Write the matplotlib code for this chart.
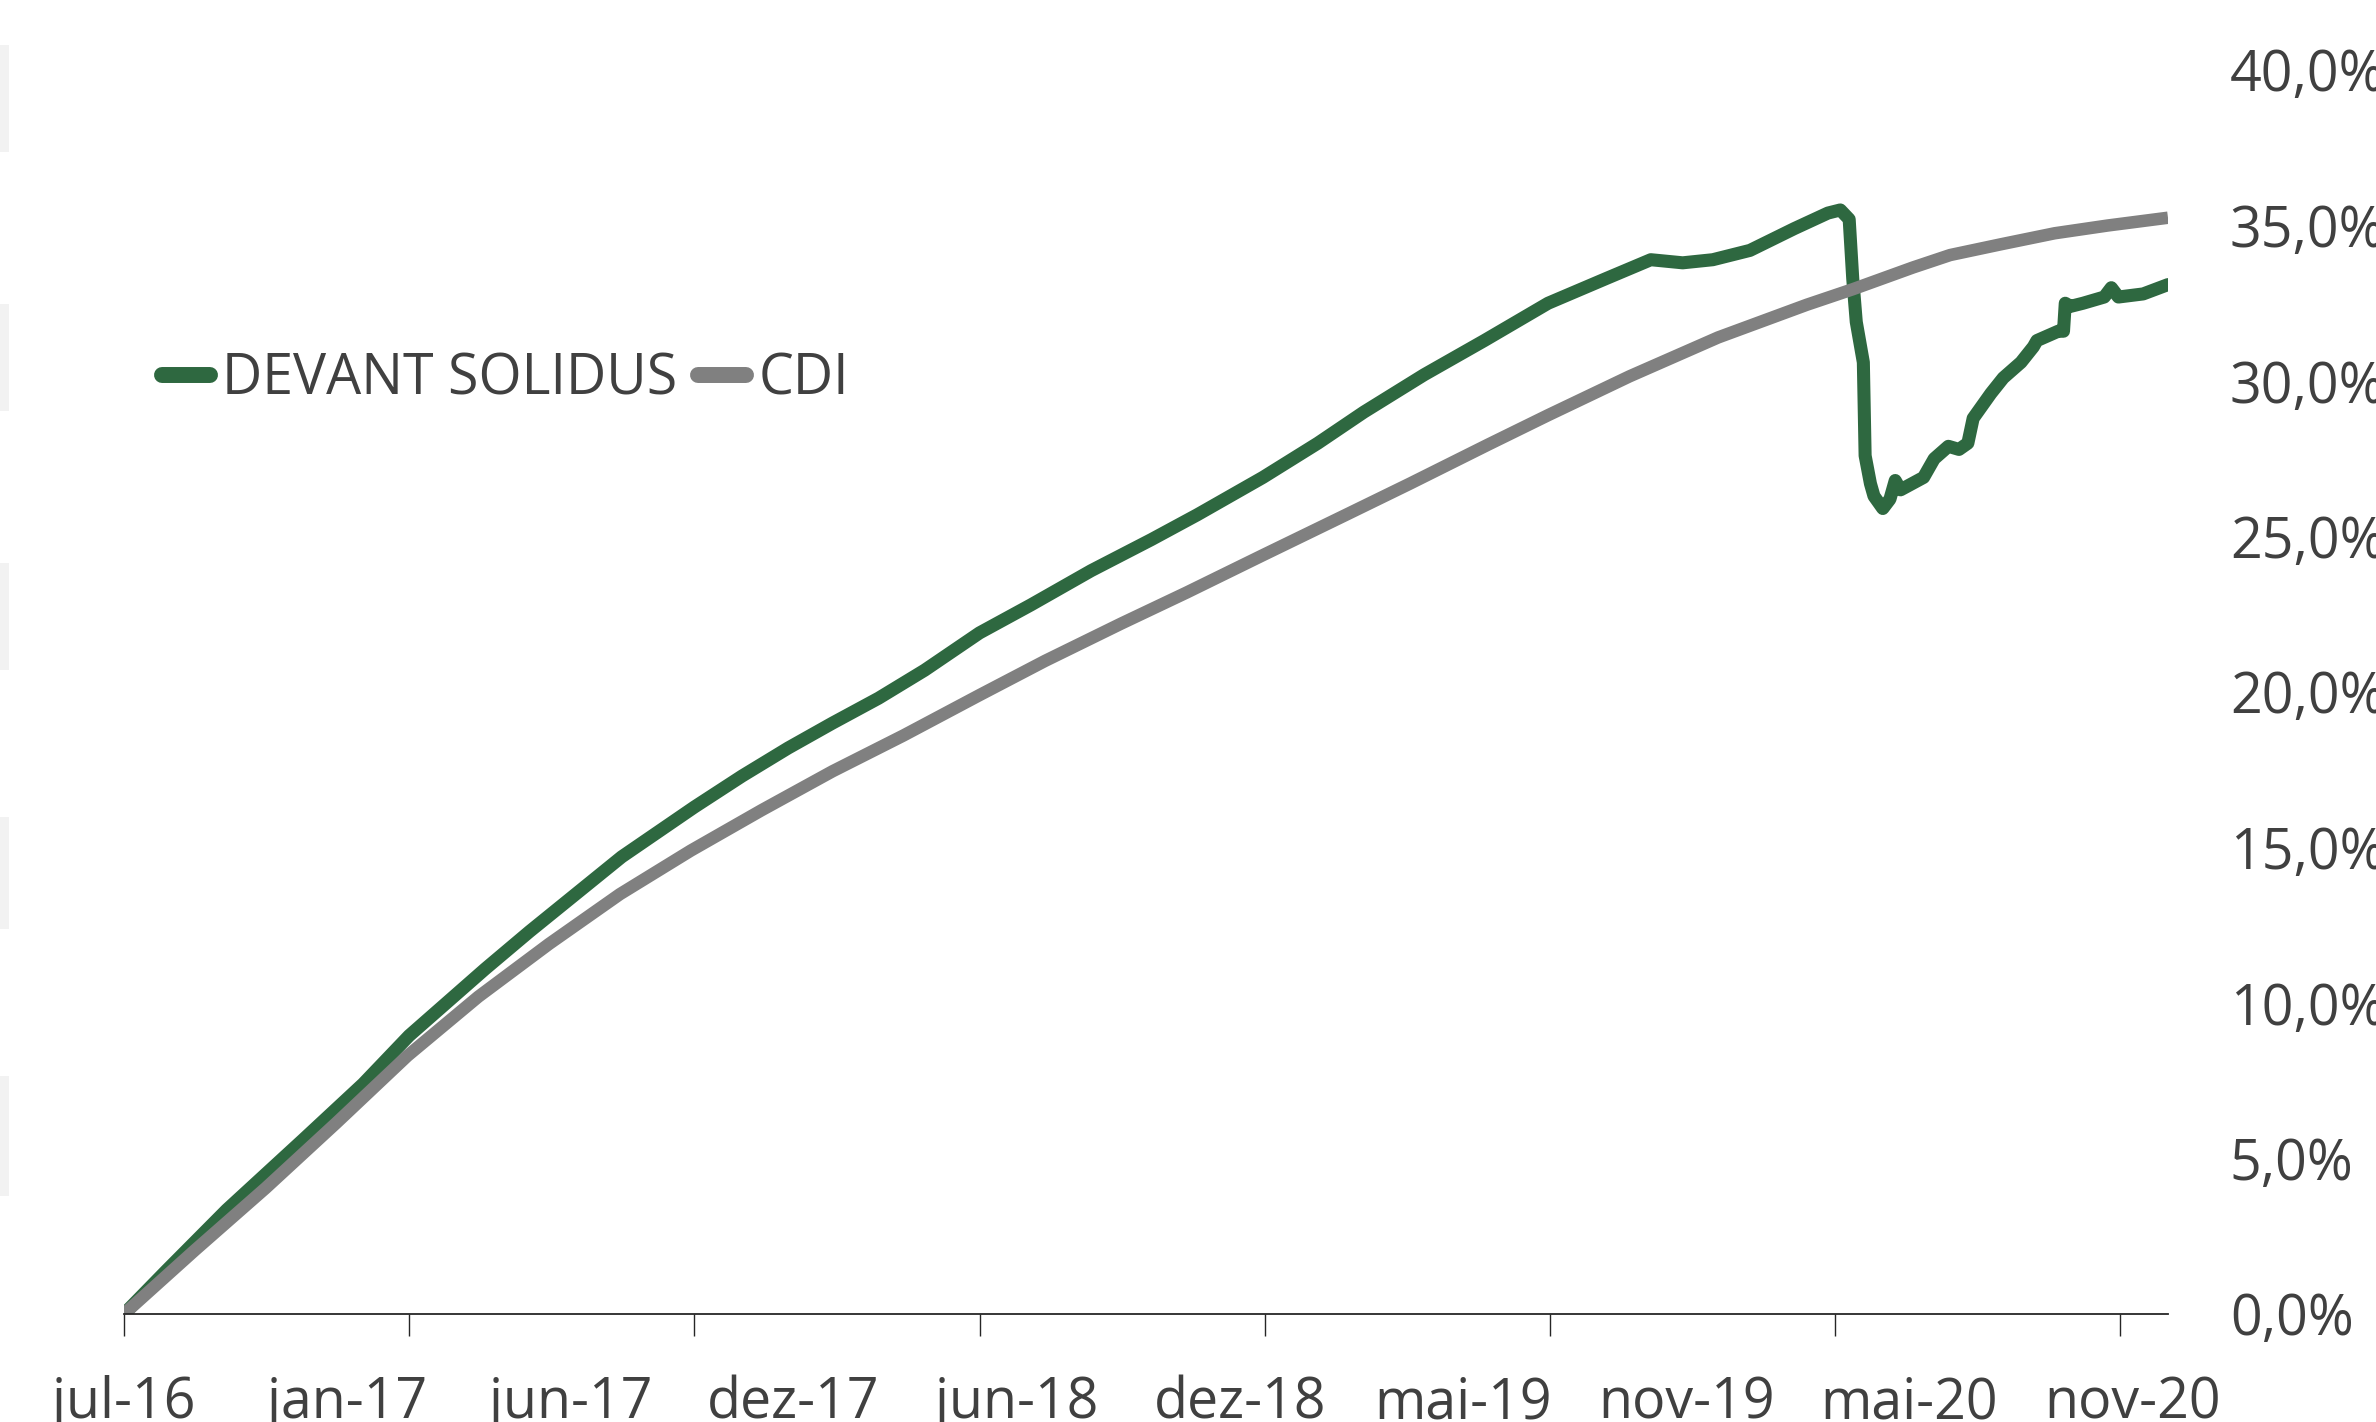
import matplotlib
matplotlib.use("Agg")
import matplotlib.pyplot as plt
from matplotlib.patches import Rectangle
from matplotlib.ticker import FixedLocator, FuncFormatter, NullFormatter

plt.rcParams['font.family'] = ['Open Sans', 'DejaVu Sans']

# x axis is a trading-day index (Excel category axis)
x_labels = ["jul-16", "jan-17", "jun-17", "dez-17", "jun-18",
            "dez-18", "mai-19", "nov-19", "mai-20", "nov-20"]
label_step = 126
tick_step = 161
x_max = 1154

# cumulative return, %
solidus_idx = [0, 24, 58, 101, 135, 161, 204, 229, 255, 281, 322, 349, 375, 400,
               426, 452, 483, 512, 546, 580, 606, 643, 674, 700, 734, 768, 804,
               837, 862, 880, 897, 918, 943, 962, 969, 974, 976, 978, 982, 983,
               986, 988, 993, 997, 1000, 1003, 1016, 1022, 1030, 1036, 1041, 1044,
               1054, 1061, 1071, 1078, 1080, 1092, 1095, 1096, 1099, 1106, 1118,
               1122, 1126, 1140, 1154]
solidus_ret = [0.0, 1.4, 3.35, 5.6, 7.4, 8.95, 11.1, 12.3, 13.5, 14.7, 16.3, 17.3,
               18.2, 19.0, 19.8, 20.7, 21.9, 22.8, 23.9, 24.9, 25.7, 26.9, 28.0,
               29.0, 30.2, 31.3, 32.5, 33.3, 33.9, 33.8, 33.9, 34.2, 34.9, 35.4,
               35.5, 35.2, 33.3, 31.9, 30.6, 27.6, 26.7, 26.3, 25.9, 26.2, 26.8,
               26.5, 26.9, 27.5, 27.9, 27.8, 28.0, 28.8, 29.6, 30.1, 30.6, 31.1,
               31.3, 31.6, 31.6, 32.5, 32.4, 32.5, 32.7, 33.0, 32.7, 32.8, 33.1]

cdi_idx = [0, 40, 80, 120, 160, 200, 240, 280, 320, 360, 400, 440, 483, 520, 563,
           600, 643, 690, 726, 770, 804, 850, 900, 950, 976, 1010, 1031, 1060,
           1090, 1120, 1154]
cdi_ret = [0.0, 2.05, 4.05, 6.15, 8.3, 10.2, 11.9, 13.5, 14.9, 16.2, 17.45, 18.6,
           19.9, 21.0, 22.2, 23.2, 24.4, 25.7, 26.7, 27.95, 28.9, 30.15, 31.4,
           32.45, 32.95, 33.65, 34.05, 34.4, 34.75, 35.0, 35.25]

y_ticks = [0, 5, 10, 15, 20, 25, 30, 35, 40]

W, H = 2376, 1422
fig = plt.figure(figsize=(W / 100, H / 100), dpi=100)
ax = fig.add_axes([124 / W, (H - 1314) / H, (2168 - 124) / W, (1314 - 70) / H])

ax.plot(solidus_idx, solidus_ret, color='#2E6840', lw=9.4,
        solid_joinstyle='round', solid_capstyle='round', label='DEVANT SOLIDUS')
ax.plot(cdi_idx, cdi_ret, color='#808080', lw=9.0,
        solid_joinstyle='round', solid_capstyle='butt', label='CDI')

ax.set_xlim(0, x_max)
ax.set_ylim(0, 40)

text_color = '#404040'

# x: tick marks and labels on different intervals
ax.xaxis.remove_overlapping_locs = False
ax.xaxis.set_major_locator(FixedLocator([i * tick_step for i in range(8)]))
ax.xaxis.set_major_formatter(NullFormatter())
ax.xaxis.set_minor_locator(FixedLocator([i * label_step for i in range(len(x_labels))]))
ax.xaxis.set_minor_formatter(FuncFormatter(lambda v, p: x_labels[int(round(v / label_step))]))
ax.tick_params(axis='x', which='major', direction='out', length=16, width=1.0, color='#262626')
ax.tick_params(axis='x', which='minor', length=0, pad=44, labelsize=40, labelcolor=text_color)

# y: labels on the right, no ticks
ax.yaxis.tick_right()
ax.yaxis.set_major_locator(FixedLocator(y_ticks))
ax.yaxis.set_major_formatter(FuncFormatter(lambda v, p: f"{v:.1f}".replace('.', ',') + '%'))
ax.tick_params(axis='y', length=0, pad=44.5, labelsize=40, labelcolor=text_color)

for s in ['top', 'left', 'right']:
    ax.spines[s].set_visible(False)
ax.spines['bottom'].set_color('#262626')
ax.spines['bottom'].set_linewidth(1.3)

leg = fig.legend(loc='center left', bbox_to_anchor=(162 / W, 1 - 380 / H),
                 ncol=2, frameon=False, fontsize=40, borderpad=0, borderaxespad=0,
                 handlelength=0.86, handletextpad=0.22, columnspacing=0.38,
                 labelcolor=text_color)
for h in leg.get_lines():
    h.set_linewidth(11.5)
    h.set_solid_capstyle('round')

# faint grey strips on the left edge of the original picture
for y0, y1 in [(45, 152), (304, 411), (563, 670), (817, 929), (1076, 1196)]:
    fig.patches.append(Rectangle((0, 1 - y1 / H), 9 / W, (y1 - y0) / H,
                                 transform=fig.transFigure, color='#F2F2F2', lw=0))

fig.savefig('out.png', dpi=100)
